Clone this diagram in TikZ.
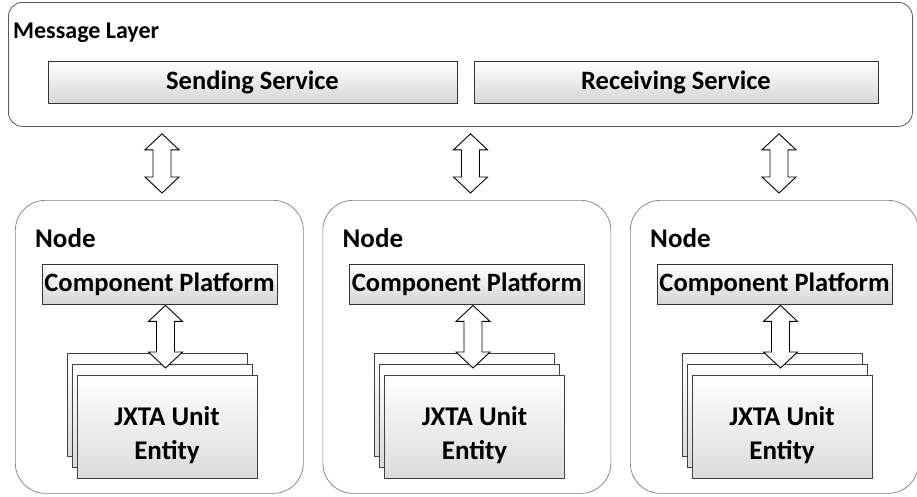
\documentclass[tikz,border=0pt]{standalone}
\usepackage{fontspec}
\setmainfont{Carlito}
\usetikzlibrary{calc}

% vertical block double arrow between two named points (top, bottom)
\newcommand\blockdarrow[2]{%
  \path let \p1=(#1), \p2=(#2) in [blockarrow]
    (\x1,\y1) -- (\x1+17pt,\y1-16pt) -- (\x1+9pt,\y1-16pt) --
    (\x1+9pt,\y2+16pt) -- (\x1+17pt,\y2+16pt) -- (\x1,\y2) --
    (\x1-17pt,\y2+16pt) -- (\x1-9pt,\y2+16pt) -- (\x1-9pt,\y1-16pt) --
    (\x1-17pt,\y1-16pt) -- cycle;}

\tikzset{
  layerbox/.style={draw=black!65, line width=0.8pt, rounded corners=14pt,
    inner sep=0pt, anchor=north west},
  nodebox/.style={draw=black!50, line width=0.7pt, rounded corners=30pt,
    inner sep=0pt, anchor=north west, minimum width=288pt, minimum height=293pt},
  service/.style={draw=black!80, line width=0.8pt, top color=white,
    bottom color=black!16, inner sep=0pt,
    font=\bfseries\fontsize{26.5}{28}\selectfont},
  page/.style={draw=black!75, line width=0.7pt, top color=white,
    bottom color=black!14, inner sep=0pt, minimum width=180pt,
    minimum height=103pt, align=center,
    font=\bfseries\fontsize{27}{34}\selectfont},
  title/.style={font=\bfseries\fontsize{24}{26}\selectfont, anchor=west,
    inner sep=0pt},
  blockarrow/.style={draw=black, line width=0.9pt, fill=white,
    line join=miter},
}

\begin{document}
\begin{tikzpicture}[x=1pt, y=-1pt]
  \useasboundingbox (0,0) rectangle (917,496);

  % message layer with its two services
  \node[layerbox, minimum width=904pt, minimum height=124pt] (ml) at (8,2) {};
  \node[title] (mltitle) at (13,33) {Message Layer};
  \node[service, minimum width=409pt, minimum height=42pt] (ss) at (252.5,82)
    {Sending Service};
  \node[service, minimum width=404pt, minimum height=42pt] (rs) at (676,82)
    {Receiving Service};

  % the three nodes
  \foreach \i in {1,2,3} {
    \pgfmathsetmacro\dx{307.5*(\i-1)}
    \node[nodebox] (nb\i) at (15+\dx,200) {};
    \node[title, font=\bfseries\fontsize{27}{28}\selectfont] (nt\i)
      at (35+\dx,238) {Node};
    \node[service, minimum width=235pt, minimum height=40pt] (cp\i)
      at (159.5+\dx,284) {Component Platform};
    \node[page] (pb\i) at (157+\dx,404.5) {};
    \node[page] (pm\i) at (162+\dx,415.5) {};
    \node[page] (pf\i) at (167+\dx,426.5) {};
    \node[font=\bfseries\fontsize{27}{34}\selectfont, align=center,
      inner sep=0pt] (pt\i) at ($(pf\i.center)+(0,9)$) {JXTA Unit\\Entity};
    \coordinate (it\i) at ($(cp\i.south -| 165.5+\dx,0)+(0,1)$);
    \coordinate (ib\i) at (165.5+\dx,368);
    \blockdarrow{it\i}{ib\i}
  }

  % links between the message layer and each node
  \foreach \i/\x in {1/162,2/470.5,3/779} {
    \coordinate (at\i) at ($(ml.south -| \x,0)+(0,7)$);
    \coordinate (ab\i) at ($(nb\i.north -| \x,0)+(0,-7)$);
    \blockdarrow{at\i}{ab\i}
  }
\end{tikzpicture}
\end{document}
